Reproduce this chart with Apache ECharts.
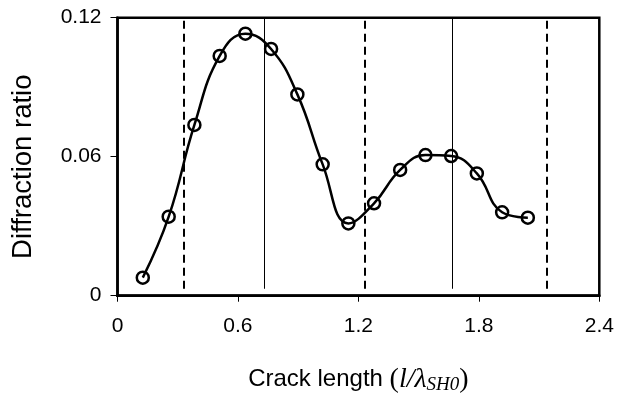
<!DOCTYPE html>
<html>
<head>
<meta charset="utf-8">
<script src="https://cdn.jsdelivr.net/npm/echarts@6/dist/echarts.min.js"></script>
<style>
  html, body { margin: 0; padding: 0; background: #fff; }
  #chart { width: 626px; height: 395px; }
</style>
</head>
<body>
<div id="chart"></div>
<script>
// Normalised crack length l/λSH0 and the measured diffraction ratio
const crackLength = [0.126, 0.255, 0.383, 0.509, 0.637, 0.765, 0.896, 1.022,
                     1.150, 1.278, 1.408, 1.534, 1.662, 1.790, 1.916, 2.044];
const diffractionRatio = [0.0078, 0.0341, 0.0737, 0.1035, 0.1131, 0.1065, 0.0869, 0.0567,
                          0.0312, 0.0399, 0.0543, 0.0607, 0.0603, 0.0528, 0.0360, 0.0337];

// Reference crack lengths: dashed and solid vertical markers
const dashedMarks = [0.33, 1.231, 2.137];
const solidMarks = [0.732, 1.667];

// Tick labels
const xTickLabels = ['0', '0.6', '1.2', '1.8', '2.4'];
const yTickLabels = ['0', '0.06', '0.12'];

const markerBottom = 0.003;
const markerTop = 0.12;

const seriesData = crackLength.map((x, i) => [x, diffractionRatio[i]]);

function vLines(xs) {
  return xs.map(x => [{ coord: [x, markerBottom] }, { coord: [x, markerTop] }]);
}

const chart = echarts.init(document.getElementById('chart'), null, { renderer: 'canvas' });
const font = 'Arial, "Liberation Sans", sans-serif';
const serif = '"Times New Roman", "Liberation Serif", serif';

chart.setOption({
  animation: false,
  backgroundColor: '#fff',
  grid: {
    left: 117.5, right: 26.7, top: 17.7, bottom: 99.3,
    containLabel: false, outerBoundsMode: 'none',
    show: true, borderColor: '#000', borderWidth: 2.5, backgroundColor: 'transparent'
  },
  xAxis: {
    type: 'value', min: 0, max: 2.4, interval: 0.6,
    axisLine: { show: true, onZero: false, lineStyle: { color: '#000', width: 2.5 } },
    axisTick: { show: true, inside: false, length: 6, lineStyle: { color: '#000', width: 1 } },
    splitLine: { show: false },
    axisLabel: {
      margin: 20, color: '#000', fontSize: 21, fontFamily: font,
      formatter: (v, i) => xTickLabels[i]
    },
    name: '{a|Crack length }{p|(}{i|l/λ}{s|SH0}{p|)}',
    nameLocation: 'middle', nameGap: 68,
    nameTextStyle: {
      rich: {
        a: { fontSize: 24, fontFamily: font, color: '#000' },
        p: { fontSize: 28, fontFamily: serif, color: '#000' },
        i: { fontSize: 28, fontStyle: 'italic', fontFamily: serif, color: '#000' },
        s: { fontSize: 19, fontStyle: 'italic', fontFamily: serif, color: '#000', verticalAlign: 'bottom', padding: [12, 0, 0, 0] }
      }
    }
  },
  yAxis: {
    type: 'value', min: 0, max: 0.12, interval: 0.06,
    axisLine: { show: true, onZero: false, lineStyle: { color: '#000', width: 2.5 } },
    axisTick: { show: true, inside: false, length: 7, lineStyle: { color: '#000', width: 1 } },
    splitLine: { show: false },
    axisLabel: {
      margin: 16, color: '#000', fontSize: 21, fontFamily: font,
      formatter: (v, i) => yTickLabels[i]
    },
    name: 'Diffraction ratio',
    nameLocation: 'middle', nameGap: 80, nameRotate: 90,
    nameTextStyle: { fontSize: 27.5, fontFamily: font, color: '#000', padding: [0, 20, 0, 0] }
  },
  series: [
    {
      type: 'line',
      data: seriesData,
      smooth: 0.45,
      symbol: 'circle',
      symbolSize: 12,
      lineStyle: { color: '#000', width: 2.5 },
      itemStyle: { color: 'rgba(255,255,255,0)', borderColor: '#000', borderWidth: 2.5 },
      z: 3,
      markLine: {
        silent: true, symbol: 'none', label: { show: false },
        lineStyle: { color: '#000', width: 2, type: [8, 5] },
        data: vLines(dashedMarks)
      }
    },
    {
      type: 'line',
      data: [],
      markLine: {
        silent: true, symbol: 'none', label: { show: false },
        lineStyle: { color: '#000', width: 1, type: 'solid' },
        data: vLines(solidMarks)
      }
    }
  ]
});
</script>
</body>
</html>
